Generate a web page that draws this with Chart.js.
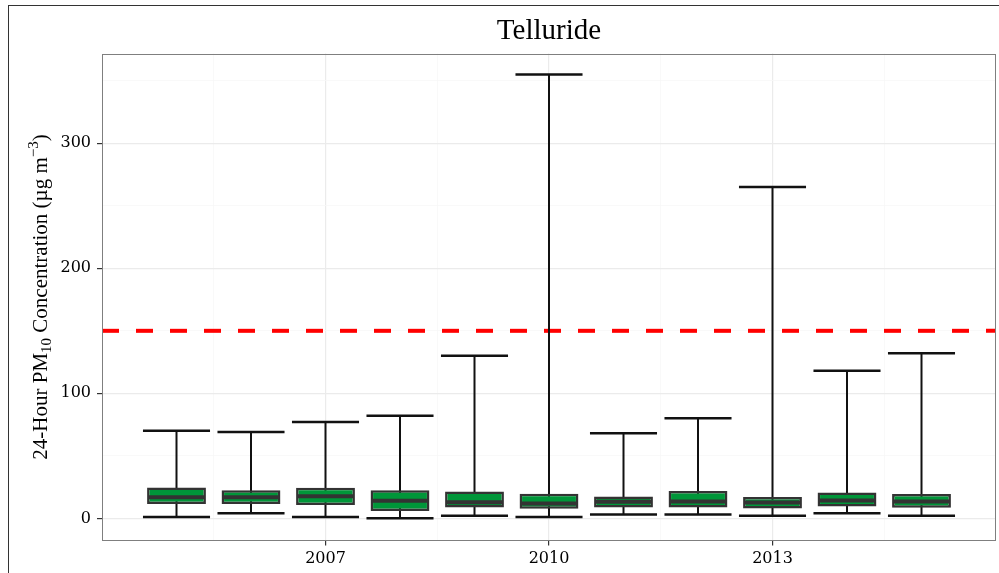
<!DOCTYPE html>
<html>
<head>
<meta charset="utf-8">
<script src="https://cdn.jsdelivr.net/npm/chart.js@4.4.1/dist/chart.umd.min.js"></script>
<style>
html, body { margin: 0; padding: 0; background: #fff; }
#wrap { position: relative; width: 999px; height: 573px; overflow: hidden; }
#frame { position: absolute; left: 8px; top: 5px; width: 1100px; height: 700px; border-left: 1px solid #333; border-top: 1px solid #333; }
canvas { position: absolute; left: 0; top: 0; }
</style>
</head>
<body>
<div id="wrap">
  <div id="frame"></div>
  <canvas id="boxChart" width="999" height="573"></canvas>
</div>
<script>
const years = [2005, 2006, 2007, 2008, 2009, 2010, 2011, 2012, 2013, 2014, 2015];
const mins = [1, 4, 1, 0, 2, 1, 3, 3, 2, 4, 2];
const q1s = [11.5, 11.5, 10.7, 5.9, 8.6, 7.6, 8.6, 8.6, 7.8, 9.4, 8.4];
const medians = [16.8, 16.8, 17.6, 14.1, 12.8, 11.8, 13.3, 13.5, 12.6, 14.3, 13.4];
const q3s = [24.6, 22.4, 24.5, 22.4, 21.4, 19.6, 17.4, 21.8, 17.0, 20.6, 19.4];
const maxs = [70, 69, 77, 82, 130, 355, 68, 80, 265, 118, 132];
const standard = 150;
const xTicks = [2005.5, 2007, 2008.5, 2010, 2011.5, 2013, 2014.5];
const yTicks = [0, 50, 100, 150, 200, 250, 300, 350];

const serif = '"Liberation Serif", serif';
const tickFont = '"DejaVu Serif", serif';

const isMajorX = (c) => c.tick ? Number.isInteger(c.tick.value) : false;
const isMajorY = (c) => c.tick ? c.tick.value % 100 === 0 : false;

// whiskers go under the boxes, medians on top
const boxPlot = {
    id: 'boxPlot',
    afterDatasetDraw(chart, args) {
        if (args.index !== 0) return;
        const ctx = chart.ctx, x = chart.scales.x, y = chart.scales.y;
        ctx.save();
        ctx.strokeStyle = '#111';
        years.forEach((yr, i) => {
            const px = x.getPixelForValue(yr);
            ctx.lineWidth = 2;
            ctx.beginPath();
            ctx.moveTo(px, y.getPixelForValue(mins[i]));
            ctx.lineTo(px, y.getPixelForValue(maxs[i]));
            ctx.stroke();
            ctx.lineWidth = 2.5;
            [mins[i], maxs[i]].forEach(v => {
                const py = y.getPixelForValue(v);
                ctx.beginPath();
                ctx.moveTo(x.getPixelForValue(yr - 0.45), py);
                ctx.lineTo(x.getPixelForValue(yr + 0.45), py);
                ctx.stroke();
            });
        });
        ctx.restore();
    },
    afterDatasetsDraw(chart) {
        const ctx = chart.ctx, x = chart.scales.x, y = chart.scales.y;
        const bar = chart.getDatasetMeta(1).data;
        ctx.save();
        ctx.strokeStyle = '#333';
        ctx.lineWidth = 4;
        years.forEach((yr, i) => {
            const half = bar[i].width / 2 - 1;
            const px = x.getPixelForValue(yr);
            const py = y.getPixelForValue(medians[i]);
            ctx.beginPath();
            ctx.moveTo(px - half, py);
            ctx.lineTo(px + half, py);
            ctx.stroke();
        });
        ctx.restore();
    },
    afterDraw(chart) {
        const ctx = chart.ctx, a = chart.chartArea;
        ctx.save();
        ctx.strokeStyle = '#7f7f7f';
        ctx.lineWidth = 1;
        ctx.strokeRect(Math.round(a.left) + 0.5, Math.round(a.top) + 0.5,
            Math.round(a.right - a.left) - 1, Math.round(a.bottom - a.top) - 1);

        ctx.fillStyle = '#000';
        ctx.font = '29px ' + serif;
        ctx.textAlign = 'center';
        ctx.textBaseline = 'alphabetic';
        ctx.fillText('Telluride', (a.left + a.right) / 2, 39);

        // y axis title with sub/superscripts
        const parts = [
            { t: '24-Hour PM', size: 21, dy: 0 },
            { t: '10', size: 15, dy: 4 },
            { t: ' Concentration (\u00b5g m', size: 21, dy: 0 },
            { t: '\u22123', size: 15, dy: -9 },
            { t: ')', size: 21, dy: 0 }
        ];
        let total = 0;
        parts.forEach(p => { ctx.font = p.size + 'px ' + serif; p.w = ctx.measureText(p.t).width; total += p.w; });
        ctx.translate(47, (a.top + a.bottom) / 2);
        ctx.rotate(-Math.PI / 2);
        ctx.textAlign = 'left';
        ctx.fillStyle = '#000';
        let pos = -total / 2;
        parts.forEach(p => {
            ctx.font = p.size + 'px ' + serif;
            ctx.fillText(p.t, pos, p.dy);
            pos += p.w;
        });
        ctx.restore();
    }
};

const ctx = document.getElementById('boxChart').getContext('2d');
new Chart(ctx, {
    type: 'bar',
    data: {
        datasets: [{
            type: 'line',
            data: [{ x: 2004, y: standard }, { x: 2016, y: standard }],
            borderColor: '#ff0000',
            borderWidth: 4,
            borderDash: [17, 17],
            pointRadius: 0,
            order: 2
        }, {
            type: 'bar',
            data: years.map((yr, i) => ({ x: yr, y: [q1s[i], q3s[i]] })),
            backgroundColor: '#009639',
            borderColor: '#333',
            borderWidth: 2.5,
            borderSkipped: false,
            categoryPercentage: 1,
            barPercentage: 0.79,
            order: 1
        }]
    },
    options: {
        responsive: false,
        animation: false,
        layout: { padding: { top: 53.5, right: 3, left: 0, bottom: 0 } },
        plugins: { legend: { display: false }, tooltip: { enabled: false }, title: { display: false } },
        scales: {
            x: {
                type: 'linear',
                min: 2004,
                max: 2016,
                offset: false,
                afterBuildTicks: (scale) => { scale.ticks = xTicks.map(v => ({ value: v })); },
                afterFit: (scale) => { scale.height = 32.5; },
                ticks: {
                    autoSkip: false,
                    maxRotation: 0,
                    padding: 4,
                    color: '#000',
                    font: { family: tickFont, size: 16 },
                    callback: (v) => Number.isInteger(v) ? String(v) : ''
                },
                grid: {
                    offset: false,
                    color: (c) => isMajorX(c) ? '#ebebeb' : '#f7f7f7',
                    lineWidth: (c) => isMajorX(c) ? 1.2 : 0.8,
                    tickColor: (c) => isMajorX(c) ? '#333' : 'rgba(0,0,0,0)',
                    tickLength: 5,
                    tickWidth: 1.2
                },
                border: { display: false }
            },
            y: {
                min: -17.7,
                max: 371.8,
                afterBuildTicks: (scale) => { scale.ticks = yTicks.map(v => ({ value: v })); },
                afterFit: (scale) => { scale.width = 102; },
                ticks: {
                    padding: 6,
                    color: '#000',
                    font: { family: tickFont, size: 16 },
                    callback: (v) => v % 100 === 0 ? String(v) : ''
                },
                grid: {
                    color: (c) => isMajorY(c) ? '#ebebeb' : '#f7f7f7',
                    lineWidth: (c) => isMajorY(c) ? 1.2 : 0.8,
                    tickColor: (c) => isMajorY(c) ? '#333' : 'rgba(0,0,0,0)',
                    tickLength: 5,
                    tickWidth: 1.2
                },
                border: { display: false }
            }
        }
    },
    plugins: [boxPlot]
});
</script>
</body>
</html>
